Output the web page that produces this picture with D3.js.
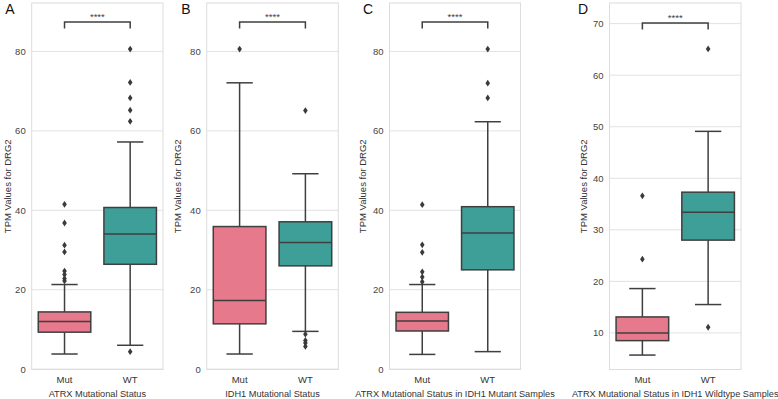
<!DOCTYPE html>
<html>
<head>
<meta charset="utf-8">
<script src="https://cdn.jsdelivr.net/npm/d3@7"></script>
<style>
  body { margin: 0; background: #fff; }
  text { font-family: "Liberation Sans", Arial, sans-serif; }
</style>
</head>
<body>
<div id="chart"></div>
<script>
// data (box stats per panel, [Mut, WT])
var categories = ["Mut", "WT"];
var panelLetters = ["A", "B", "C", "D"];
var xTitles = ["ATRX Mutational Status", "IDH1 Mutational Status",
    "ATRX Mutational Status in IDH1 Mutant Samples", "ATRX Mutational Status in IDH1 Wildtype Samples"];
var yTitle = "TPM Values for DRG2";

var q1 = [[9.3, 26.4], [11.4, 26.0], [9.6, 25.0], [8.5, 28.0]];
var medians = [[12.0, 34.0], [17.3, 31.9], [12.1, 34.3], [10.0, 33.4]];
var q3 = [[14.4, 40.7], [35.9, 37.1], [14.3, 40.9], [13.1, 37.3]];
var whiskLow = [[3.8, 6.0], [3.8, 9.5], [3.7, 4.4], [5.7, 15.5]];
var whiskHigh = [[21.3, 57.2], [72.1, 49.2], [21.3, 62.3], [18.6, 49.1]];
var outliers = [
    [[41.5, 36.8, 31.2, 29.5, 24.7, 23.8, 22.8, 22.2], [80.6, 72.2, 68.3, 65.2, 62.4, 4.4]],
    [[80.6], [65.1, 8.8, 7.2, 6.6, 5.7]],
    [[41.4, 31.3, 29.4, 24.5, 23.2, 22.0], [80.6, 72.0, 68.3]],
    [[36.6, 24.3], [65.1, 11.1]]
];
var yTicks = [[0, 20, 40, 60, 80], [0, 20, 40, 60, 80], [0, 20, 40, 60, 80], [10, 20, 30, 40, 50, 60, 70]];
var yDomains = [[-0.1, 92.2], [-0.1, 92.2], [-0.1, 92.2], [2.9, 74]];
var bracketY = [87.4, 87.4, 87.4, 70.1];
var sigLabel = "****";

// layout
var W = 778, H = 399;
var plotTop = 3, plotBottom = 369.5;
var panelX = [[31.7, 163], [206.7, 338.3], [389.5, 520.5], [609.5, 741]];
var yTitleX = [8, 178, 363, 584];
var letterX = [10, 186, 368, 583];
var colors = ["#e6798b", "#3e9f98"];
var lineCol = "#3f3f3f";

var svg = d3.select("#chart").append("svg")
    .attr("width", W)
    .attr("height", H);

panelX.forEach(function(px, p) {
    var x = d3.scaleBand()
        .domain(categories)
        .range(px);
    var y = d3.scaleLinear()
        .domain(yDomains[p])
        .range([plotBottom, plotTop]);

    var g = svg.append("g");

    // grid
    g.selectAll(".grid")
        .data(yTicks[p])
        .enter().append("line")
        .attr("x1", px[0]).attr("x2", px[1])
        .attr("y1", function(d) { return y(d) })
        .attr("y2", function(d) { return y(d) })
        .attr("stroke", "#e2e2e2")
        .attr("stroke-width", 1);

    // frame
    g.append("rect")
        .attr("x", px[0]).attr("y", plotTop)
        .attr("width", px[1] - px[0]).attr("height", plotBottom - plotTop)
        .attr("fill", "none")
        .attr("stroke", "#dcdcdc")
        .attr("stroke-width", 1);

    // y axis (labels only)
    var yAxis = g.append("g")
        .attr("transform", "translate(" + px[0] + ",0)")
        .call(d3.axisLeft(y).tickValues(yTicks[p]).tickSize(0).tickPadding(6));
    yAxis.select(".domain").remove();
    yAxis.selectAll("text").attr("fill", "#444").style("font-size", "9.5px");

    // x axis (labels only)
    var xAxis = g.append("g")
        .attr("transform", "translate(0," + plotBottom + ")")
        .call(d3.axisBottom(x).tickSize(0).tickPadding(7));
    xAxis.select(".domain").remove();
    xAxis.selectAll("text").attr("fill", "#333").style("font-size", "9.5px");

    g.append("text")
        .attr("x", (px[0] + px[1]) / 2)
        .attr("y", 397)
        .attr("text-anchor", "middle")
        .attr("fill", "#333")
        .style("font-size", "9.2px")
        .text(xTitles[p]);

    g.append("text")
        .attr("transform", "translate(" + (yTitleX[p] + 3) + "," + ((plotTop + plotBottom) / 2) + ") rotate(-90)")
        .attr("text-anchor", "middle")
        .attr("fill", "#333")
        .style("font-size", "9.5px")
        .text(yTitle);

    g.append("text")
        .attr("x", letterX[p])
        .attr("y", 14)
        .attr("text-anchor", "middle")
        .attr("fill", "#111")
        .style("font-size", "14px")
        .text(panelLetters[p]);

    // boxes
    var bw = x.bandwidth() * 0.8;
    categories.forEach(function(c, i) {
        var cx = x(c) + x.bandwidth() / 2;
        // whiskers
        g.append("line")
            .attr("x1", cx).attr("x2", cx)
            .attr("y1", y(q3[p][i])).attr("y2", y(whiskHigh[p][i]))
            .attr("stroke", lineCol).attr("stroke-width", 1.5);
        g.append("line")
            .attr("x1", cx).attr("x2", cx)
            .attr("y1", y(q1[p][i])).attr("y2", y(whiskLow[p][i]))
            .attr("stroke", lineCol).attr("stroke-width", 1.5);
        [whiskHigh[p][i], whiskLow[p][i]].forEach(function(v) {
            g.append("line")
                .attr("x1", cx - bw / 4).attr("x2", cx + bw / 4)
                .attr("y1", y(v)).attr("y2", y(v))
                .attr("stroke", lineCol).attr("stroke-width", 1.5);
        });
        g.append("rect")
            .attr("x", cx - bw / 2)
            .attr("width", bw)
            .attr("y", y(q3[p][i]))
            .attr("height", y(q1[p][i]) - y(q3[p][i]))
            .attr("fill", colors[i])
            .attr("stroke", lineCol)
            .attr("stroke-width", 1.5);
        g.append("line")
            .attr("x1", cx - bw / 2).attr("x2", cx + bw / 2)
            .attr("y1", y(medians[p][i])).attr("y2", y(medians[p][i]))
            .attr("stroke", lineCol).attr("stroke-width", 1.5);
        g.selectAll(".out" + i)
            .data(outliers[p][i])
            .enter().append("path")
            .attr("transform", function(d) { return "translate(" + cx + "," + y(d) + ")" })
            .attr("d", "M0,-3.4L2.3,0L0,3.4L-2.3,0Z")
            .attr("fill", "#3a3a3a");
    });

    // significance bracket
    var x0 = x(categories[0]) + x.bandwidth() / 2,
        x1 = x(categories[1]) + x.bandwidth() / 2,
        by = y(bracketY[p]);
    g.append("path")
        .attr("d", "M" + x0 + "," + (by + 6.4) + "V" + by + "H" + x1 + "V" + (by + 6.4))
        .attr("fill", "none")
        .attr("stroke", lineCol)
        .attr("stroke-width", 1.5);
    g.append("text")
        .attr("x", (x0 + x1) / 2)
        .attr("y", by - 2.5)
        .attr("text-anchor", "middle")
        .attr("fill", "#444")
        .style("font-size", "9.5px")
        .text(sigLabel);
});
</script>
</body>
</html>
